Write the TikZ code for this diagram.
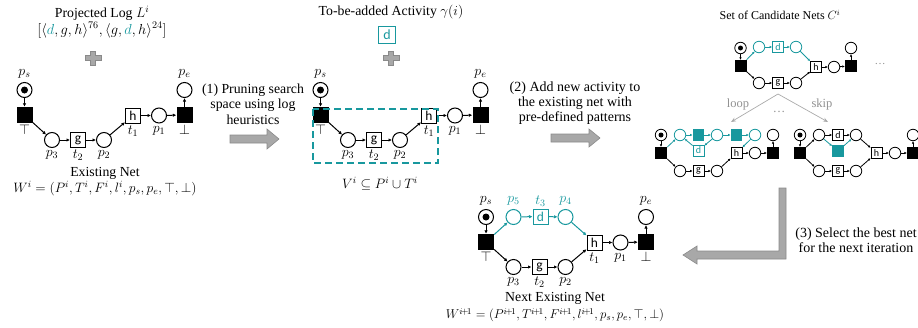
\documentclass[tikz,border=0pt]{standalone}
\usepackage{fix-cm}
\usepackage{fontspec}
\setmainfont{Liberation Serif}
\newfontfamily\nodefont{Carlito}
\usetikzlibrary{arrows.meta}
\definecolor{tealc}{RGB}{24,152,158}
\definecolor{arrfill}{RGB}{168,168,168}
\definecolor{arrdraw}{RGB}{138,138,138}
\definecolor{treegray}{RGB}{170,170,170}
\newcommand\txa{\fontsize{13.8}{15.5}\selectfont}
\newcommand\txm{\fontsize{13.6}{16}\selectfont}
\newcommand\txmm{\fontsize{12.8}{16}\selectfont}
\newcommand\txb{\fontsize{14}{15}\selectfont}
\newcommand\txl{\fontsize{14}{14}\selectfont}
\newcommand\txs{\fontsize{12.5}{13}\selectfont}
\newcommand\basenet[1]{%
  \node[pl] (#1ps) at (24.5,90) {};
  \node[tok] (#1tok) at (24.5,90) {};
  \node[bt] (#1T) at (24.5,115) {};
  \node[pl] (#1p3) at (52,140) {};
  \node[tb] (#1g) at (78,140) {g};
  \node[pl] (#1p2) at (104,140) {};
  \node[tb] (#1h) at (133,115.5) {h};
  \node[pl] (#1p1) at (159,115.5) {};
  \node[bt] (#1E) at (184.5,115) {};
  \node[pl] (#1pe) at (184.5,90) {};
  \node[lab] (#1lps) at (24.5,74) {$p_s$};
  \node[lab] (#1lT) at (24.5,130) {$\top$};
  \node[lab] (#1lp3) at (52,155) {$p_3$};
  \node[lab] (#1lt2) at (78,155) {$t_2$};
  \node[lab] (#1lp2) at (104,155) {$p_2$};
  \node[lab] (#1lt1) at (133,131) {$t_1$};
  \node[lab] (#1lp1) at (159,131) {$p_1$};
  \node[lab] (#1lE) at (184.5,130) {$\bot$};
  \node[lab] (#1lpe) at (184.5,74) {$p_e$};
  \draw[flow] (#1ps) -- (#1T);
  \draw[flow] (#1T) -- (#1p3);
  \draw[flow] (#1p3) -- (#1g);
  \draw[flow] (#1g) -- (#1p2);
  \draw[flow] (#1p2) -- (#1h);
  \draw[flow] (#1h) -- (#1p1);
  \draw[flow] (#1p1) -- (#1E);
  \draw[flow] (#1E) -- (#1pe);
}
\tikzset{
 pl/.style={circle,draw,line width=1pt,minimum size=15pt,inner sep=0pt},
 bt/.style={rectangle,fill=black,minimum size=16pt,inner sep=0pt},
 tb/.style={rectangle,draw,line width=1pt,minimum size=15pt,inner sep=0pt,font=\nodefont\fontsize{13.5}{13.5}\selectfont},
 tok/.style={circle,fill=black,minimum size=7pt,inner sep=0pt},
 flow/.style={line width=1pt,-{Latex[length=3.5pt,width=3.5pt]}},
 lab/.style={inner sep=0pt,font=\txl},
 spl/.style={circle,draw,line width=0.8pt,minimum size=11.5pt,inner sep=0pt},
 sbt/.style={rectangle,fill=black,minimum size=12pt,inner sep=0pt},
 sfq/.style={rectangle,fill=tealc,minimum size=11.5pt,inner sep=0pt},
 stb/.style={rectangle,draw,line width=0.8pt,minimum size=11pt,inner sep=0pt,font=\nodefont\fontsize{10}{10}\selectfont},
 stok/.style={circle,fill=black,minimum size=5pt,inner sep=0pt},
 sflow/.style={line width=0.8pt,-{Latex[length=2.5pt,width=2.5pt]}},
 tflow/.style={sflow,draw=tealc},
 txt/.style={inner sep=0pt,align=center,font=\txa},
 mtxt/.style={inner sep=0pt,align=center,font=\txm},
 txtb/.style={inner sep=0pt,align=center,font=\txb},
 bigarr/.style={fill=arrfill,draw=arrdraw,line width=0.6pt},
 plussign/.pic={\filldraw[fill=arrfill,draw=arrdraw,line width=0.5pt]
   (-2.6,-7) -- (2.6,-7) -- (2.6,-2.6) -- (8,-2.6) -- (8,2.6) -- (2.6,2.6) --
   (2.6,7) -- (-2.6,7) -- (-2.6,2.6) -- (-8,2.6) -- (-8,-2.6) -- (-2.6,-2.6) -- cycle;},
 treearr/.style={draw=treegray,line width=0.7pt,-{Stealth[length=5pt,width=4pt]}},
 graytxt/.style={inner sep=0pt,text=treegray!85!black,font=\txs},
}
\begin{document}
\begin{tikzpicture}[x=1pt,y=-1pt]
\useasboundingbox (0,0) rectangle (918,327);

% ---------- Panel 1: existing net ----------
\node[txt] (title1) at (102,13) {Projected Log $L^i$};
\node[txt,font=\fontsize{14.5}{16}\selectfont] (log1) at (102,30) {$[\langle \textcolor{tealc}{d},g,h\rangle^{76},\langle g,\textcolor{tealc}{d},h\rangle^{24}]$};
\pic at (93,58) {plussign};
\basenet{a}
\node[txt] (en) at (105,173) {Existing Net};
\node[mtxt] (wi) at (105,189) {$W^i=(P^i,T^i,F^i,l^i,p_s,p_e,\top,\bot)$};

% ---------- Step 1 ----------
\node[txt] (step1) at (253,104) {(1) Pruning search\\space using log\\heuristics};
\filldraw[bigarr] (230,135) -- (267,135) -- (267,129) -- (279,139) -- (267,149) -- (267,143) -- (230,143) -- cycle;

% ---------- Panel 2: pruned net ----------
\node[txt] (title2) at (391,12) {To-be-added Activity $\gamma(i)$};
\node[rectangle,draw=tealc,line width=1.2pt,minimum size=17pt,inner sep=0pt,text=tealc,font=\nodefont\fontsize{14}{14}\selectfont] (dact) at (387,35) {d};
\pic at (391,58) {plussign};
\begin{scope}[shift={(296,0)}]
\basenet{b}
\end{scope}
\draw[tealc,line width=1.8pt,dash pattern=on 7pt off 4pt] (313,109) rectangle (438,163);
\node[mtxt] (vi) at (380,184) {$V^i\subseteq P^i\cup T^i$};

% ---------- Step 2 ----------
\node[txtb] (step2) at (575,103) {(2) Add new activity to\\the existing net with\\pre-defined patterns};
\filldraw[bigarr] (551,134) -- (589,134) -- (589,129) -- (600,138) -- (589,147) -- (589,142) -- (551,142) -- cycle;

% ---------- Panel 3: candidate nets ----------
\node[txt,font=\fontsize{12}{13}\selectfont] (title3) at (780,15) {Set of Candidate Nets $C^i$};
% top candidate
\node[spl] (tps) at (740.5,48) {};
\node[stok] (ttok) at (740.5,48) {};
\node[sbt] (tT) at (740.5,66) {};
\node[spl,draw=tealc] (tc1) at (759,47) {};
\node[stb,draw=tealc,text=tealc] (td) at (778,47) {d};
\node[spl,draw=tealc] (tc2) at (796,47) {};
\node[stb] (th) at (816,67) {h};
\node[spl] (tp1) at (834,67) {};
\node[sbt] (tE) at (851,66) {};
\node[spl] (tpe) at (851,48) {};
\node[spl] (tb1) at (759,83) {};
\node[stb] (tg) at (778,83) {g};
\node[spl] (tb2) at (796,83) {};
\draw[sflow] (tps) -- (tT);
\draw[tflow] (tT) -- (tc1);
\draw[tflow] (tc1) -- (td);
\draw[tflow] (td) -- (tc2);
\draw[tflow] (tc2) -- (th);
\draw[sflow] (tT) -- (tb1);
\draw[sflow] (tb1) -- (tg);
\draw[sflow] (tg) -- (tb2);
\draw[sflow] (tb2) -- (th);
\draw[sflow] (th) -- (tp1);
\draw[sflow] (tp1) -- (tE);
\draw[sflow] (tE) -- (tpe);
\node[graytxt,font=\fontsize{11}{11}\selectfont] (tdots) at (880,64) {\ldots};

% tree
\coordinate (apex) at (778,94);
\coordinate (tipl) at (731,122);
\coordinate (tipr) at (828,122);
\draw[treearr] (apex) -- (tipl);
\draw[treearr] (apex) -- (tipr);
\node[graytxt] (loop) at (738,104) {loop};
\node[graytxt] (skip) at (822,104) {skip};
\node[graytxt] (mdots) at (779,112) {\ldots};

% loop candidate
\node[spl] (lps) at (661,135) {};
\node[stok] (ltok) at (661,135) {};
\node[sbt] (lT) at (661,153) {};
\node[spl,draw=tealc] (lc1) at (680,135) {};
\node[sfq] (ls1) at (698.5,135) {};
\node[spl,draw=tealc] (lc2) at (717,135) {};
\node[sfq] (ls2) at (736.5,135) {};
\node[spl,draw=tealc] (lc3) at (755,135) {};
\node[stb,draw=tealc,text=tealc] (ld) at (698.5,150.5) {d};
\node[stb] (lh) at (736.5,153) {h};
\node[spl] (lp1) at (755,153) {};
\node[sbt] (lE) at (773,153) {};
\node[spl] (lpe) at (773,135) {};
\node[spl] (lb1) at (680,171) {};
\node[stb] (lg) at (698.5,171) {g};
\node[spl] (lb2) at (717,171) {};
\draw[sflow] (lps) -- (lT);
\draw[tflow] (lT) -- (lc1);
\draw[tflow] (lc1) -- (ls1);
\draw[tflow] (ls1) -- (lc2);
\draw[tflow] (lc2) -- (ls2);
\draw[tflow] (ls2) -- (lc3);
\draw[tflow] (lc3) -- (lh);
\draw[tflow] (lc2) -- (ld);
\draw[tflow] (ld) -- (lc1);
\draw[sflow] (lT) -- (lb1);
\draw[sflow] (lb1) -- (lg);
\draw[sflow] (lg) -- (lb2);
\draw[sflow] (lb2) -- (lh);
\draw[sflow] (lh) -- (lp1);
\draw[sflow] (lp1) -- (lE);
\draw[sflow] (lE) -- (lpe);

% skip candidate
\node[spl] (kps) at (800,135) {};
\node[stok] (ktok) at (800,135) {};
\node[sbt] (kT) at (800,153) {};
\node[spl] (kc1) at (819,135) {};
\node[stb] (kd) at (838,135) {d};
\node[spl] (kc2) at (856,135) {};
\node[sfq] (kq) at (838,151) {};
\node[stb] (kh) at (876.5,153) {h};
\node[spl] (kp1) at (895,153) {};
\node[sbt] (kE) at (913,153) {};
\node[spl] (kpe) at (913,135) {};
\node[spl] (kb1) at (819,171) {};
\node[stb] (kg) at (838,171) {g};
\node[spl] (kb2) at (856,171) {};
\draw[sflow] (kps) -- (kT);
\draw[sflow] (kT) -- (kc1);
\draw[sflow] (kc1) -- (kd);
\draw[sflow] (kd) -- (kc2);
\draw[sflow] (kc2) -- (kh);
\draw[tflow] (kc1) -- (kq);
\draw[tflow] (kq) -- (kc2);
\draw[sflow] (kT) -- (kb1);
\draw[sflow] (kb1) -- (kg);
\draw[sflow] (kg) -- (kb2);
\draw[sflow] (kb2) -- (kh);
\draw[sflow] (kh) -- (kp1);
\draw[sflow] (kp1) -- (kE);
\draw[sflow] (kE) -- (kpe);

% ---------- Step 3 ----------
\filldraw[bigarr] (779,188) -- (786,188) -- (786,259) -- (697,259) -- (697,264) -- (683,255) -- (697,246) -- (697,251) -- (779,251) -- cycle;
\node[txtb] (step3) at (856,240) {(3) Select the best net\\for the next iteration};

% ---------- Panel 4: next existing net ----------
\begin{scope}[shift={(461.5,127)}]
\basenet{c}
\node[pl,draw=tealc] (cp5) at (52,90) {};
\node[tb,draw=tealc,text=tealc] (cd) at (79,89.5) {d};
\node[pl,draw=tealc] (cp4) at (104,90) {};
\node[lab,text=tealc] (cl5) at (52,74) {$p_5$};
\node[lab,text=tealc] (clt3) at (79,74) {$t_3$};
\node[lab,text=tealc] (cl4) at (104,74) {$p_4$};
\draw[flow,draw=tealc] (cT) -- (cp5);
\draw[flow,draw=tealc] (cp5) -- (cd);
\draw[flow,draw=tealc] (cd) -- (cp4);
\draw[flow,draw=tealc] (cp4) -- (ch);
\end{scope}
\node[txt] (nen) at (555,298) {Next Existing Net};
\node[inner sep=0pt,font=\txmm] (wi1) at (555,315) {$W^{i\!+\!1}=(P^{i\!+\!1},T^{i\!+\!1},F^{i\!+\!1},l^{i\!+\!1},p_s,p_e,\top,\bot)$};
\end{tikzpicture}
\end{document}
